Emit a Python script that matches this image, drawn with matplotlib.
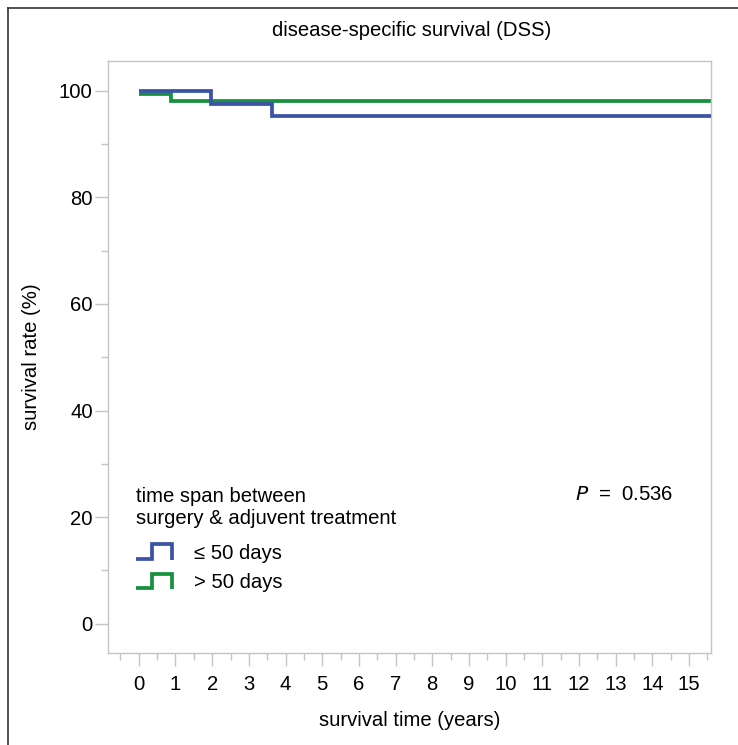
import matplotlib
matplotlib.use("Agg")
import matplotlib.pyplot as plt
from matplotlib.lines import Line2D
from matplotlib.legend_handler import HandlerBase

plt.rcParams['font.family'] = ['Liberation Sans', 'DejaVu Sans']

# ---- data ----
title = "disease-specific survival (DSS)"
x_label = "survival time (years)"
y_label = "survival rate (%)"
legend_title = "time span between\nsurgery & adjuvent treatment"
group_labels = ["≤ 50 days", "> 50 days"]
group_colors = ["#3b53a4", "#16923f"]

# step curves: event times and survival values after each step
blue_times = [0.0, 1.98, 3.62, 15.6]
blue_surv = [100.0, 97.6, 95.3, 95.3]
green_times = [0.0, 0.87, 15.6]
green_surv = [99.5, 98.0, 98.0]

x_ticks = list(range(0, 16))
y_ticks = [0, 20, 40, 60, 80, 100]
p_value = "0.536"

GRAY = "#c4c4c4"
FS = 14.6


class StepHandler(HandlerBase):
    def create_artists(self, legend, orig_handle, xdescent, ydescent,
                       width, height, fontsize, trans):
        x0 = -xdescent
        y0 = -ydescent
        xs = [x0, x0 + 0.45 * width, x0 + 0.45 * width, x0 + width, x0 + width]
        ys = [y0 + 0.0 * height, y0 + 0.0 * height, y0 + 1.0 * height,
              y0 + 1.0 * height, y0 - 0.08 * height]
        ln = Line2D(xs, ys, color=orig_handle.get_color(),
                    lw=orig_handle.get_linewidth(), solid_joinstyle='miter',
                    solid_capstyle='butt', transform=trans)
        return [ln]


fig = plt.figure(figsize=(7.38, 7.45), dpi=100)
ax = fig.add_axes([108 / 738, 1 - 653 / 745, (711 - 108) / 738, (653 - 61) / 745])

handles = []
for t, s, c, lab in [(blue_times, blue_surv, group_colors[0], group_labels[0]),
                     (green_times, green_surv, group_colors[1], group_labels[1])]:
    h, = ax.step(t, s, where='post', color=c, lw=2.7, label=lab,
                 solid_joinstyle='miter', solid_capstyle='butt')
    handles.append(h)
handles[0].set_zorder(3)
handles[1].set_zorder(2)

ax.set_xlim(-0.84, 15.6)
ax.set_ylim(-5.5, 105.6)

ax.set_xticks(x_ticks)
ax.set_xticks([x + 0.5 for x in range(-1, 16)], minor=True)
ax.set_yticks(y_ticks)
ax.set_yticks([10, 30, 50, 70, 90], minor=True)

for sp in ax.spines.values():
    sp.set_color(GRAY)
    sp.set_linewidth(1.0)

ax.tick_params(axis='both', which='major', length=9.5, width=1.0, color=GRAY,
               labelsize=FS, labelcolor='black')
ax.tick_params(axis='both', which='minor', length=5, width=1.0, color=GRAY)
ax.tick_params(axis='x', which='major', pad=6)
ax.tick_params(axis='y', which='major', pad=1.5)

ax.set_xlabel(x_label, fontsize=FS, labelpad=12.5)
ax.set_ylabel(y_label, fontsize=FS, labelpad=13)
fig.text(412 / 738, 1 - 30 / 745, title, fontsize=FS, ha='center', va='center')

leg = ax.legend(handles=handles, labels=group_labels, title=legend_title,
                handler_map={Line2D: StepHandler()},
                loc='upper left', bbox_to_anchor=(0.047, 0.28),
                frameon=False, fontsize=FS, title_fontsize=FS,
                alignment='left', handlelength=1.75, handleheight=0.7,
                handletextpad=1.1, labelspacing=0.52, borderpad=0.0,
                borderaxespad=0.0)
leg._legend_box.sep = 11

ax.text(0.775, 0.283, r"$\it{P}$  =  " + p_value, transform=ax.transAxes,
        fontsize=FS, ha='left', va='top')

# outer frame (left and top lines)
fig.add_artist(Line2D([8 / 738, 8 / 738], [0, 1 - 8 / 745], color='#333333',
                      lw=1.2, transform=fig.transFigure))
fig.add_artist(Line2D([8 / 738, 1], [1 - 8 / 745, 1 - 8 / 745], color='#333333',
                      lw=1.2, transform=fig.transFigure))

fig.savefig("out.png", dpi=100)
